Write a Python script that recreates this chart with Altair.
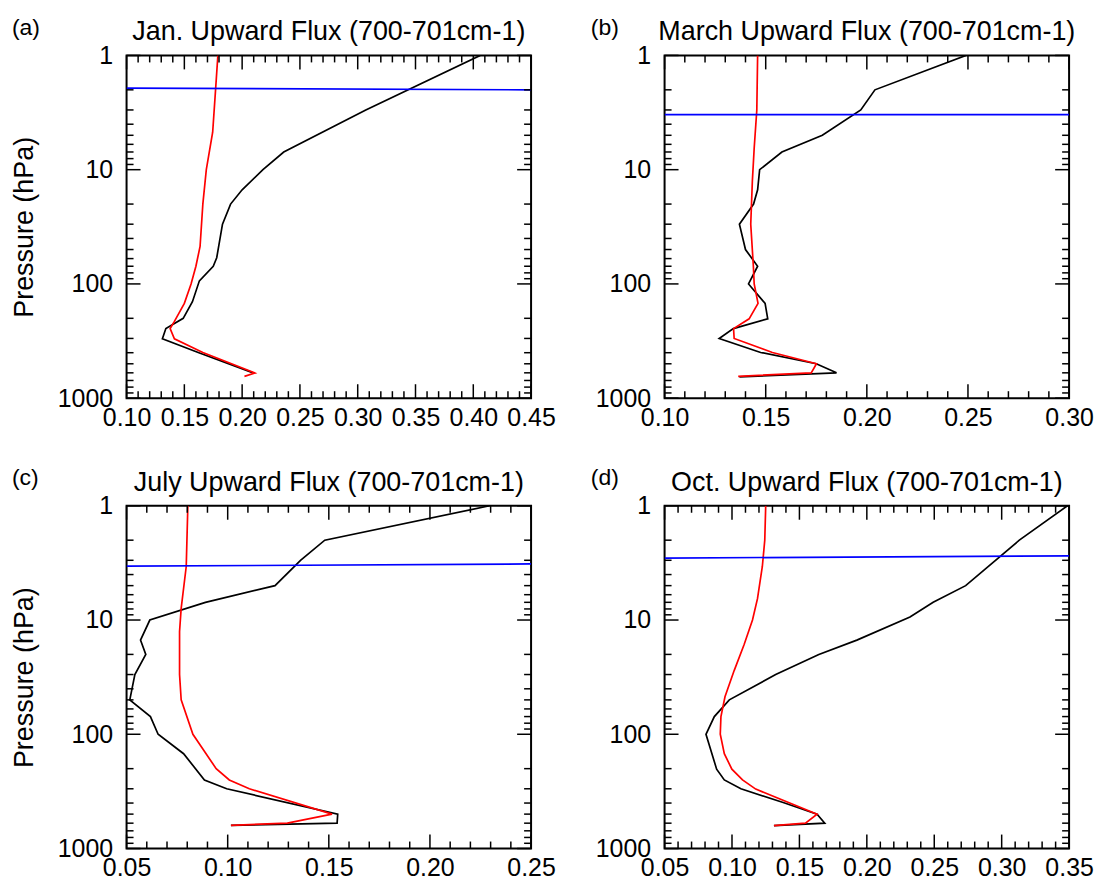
import altair as alt
import pandas as pd

FONT = "Liberation Sans"

# ---------------- data ----------------
# Panel (a) January
a_black_flux = [0.406, 0.307, 0.236, 0.218, 0.200, 0.190, 0.183, 0.178, 0.175, 0.163, 0.157, 0.149, 0.134, 0.131, 0.162, 0.209]
a_black_p = [1, 3, 7, 10, 15, 20, 30, 59, 70, 94, 143, 200, 246, 302, 398, 598]
a_red_flux = [0.179, 0.177, 0.1745, 0.169, 0.166, 0.1636, 0.160, 0.1558, 0.150, 0.1414, 0.1377, 0.1414, 0.166, 0.211, 0.202]
a_red_p = [1, 2, 4.7, 10, 20, 47, 70, 100, 148, 213, 246, 302, 398, 603, 644]
a_blue_flux = [0.10, 0.45]
a_blue_p = [1.93, 2.0]

# Panel (b) March
b_black_flux = [0.249, 0.204, 0.197, 0.178, 0.158, 0.147, 0.146, 0.144, 0.137, 0.140, 0.146, 0.1415, 0.1497, 0.151, 0.134, 0.127, 0.1475, 0.175, 0.185, 0.137]
b_black_p = [1, 2, 3, 5, 7, 10, 15, 20, 30, 50, 70, 100, 148, 202, 246, 300, 398, 500, 600, 650]
b_red_flux = [0.146, 0.1456, 0.1443, 0.1434, 0.1426, 0.1439, 0.1443, 0.1462, 0.1418, 0.1341, 0.1344, 0.1533, 0.1751, 0.1725, 0.1364]
b_red_p = [1, 3, 6.5, 12.6, 30, 70, 100, 148, 202, 246, 300, 398, 500, 600, 644]
b_blue_flux = [0.10, 0.30]
b_blue_p = [3.3, 3.3]

# Panel (c) July
c_black_flux = [0.2295, 0.148, 0.136, 0.1234, 0.089, 0.0615, 0.0569, 0.0595, 0.0541, 0.0516, 0.0618, 0.0656, 0.0782, 0.0885, 0.0995, 0.1544, 0.1541, 0.1016]
c_black_p = [1, 2, 3, 5, 7, 10, 15, 20, 30, 50, 70, 100, 148, 251, 300, 500, 600, 627]
c_red_flux = [0.0803, 0.0795, 0.077, 0.0762, 0.0762, 0.077, 0.0828, 0.0943, 0.1008, 0.1107, 0.1516, 0.1295, 0.1016]
c_red_p = [1, 3.4, 7.9, 12.6, 30, 50, 100, 200, 251, 300, 500, 600, 627]
c_blue_flux = [0.05, 0.25]
c_blue_p = [3.38, 3.23]

# Panel (d) October
d_black_flux = [0.3488, 0.3131, 0.2733, 0.2492, 0.232, 0.1926, 0.1644, 0.1324, 0.098, 0.0869, 0.0807, 0.0886, 0.0943, 0.1066, 0.1385, 0.1631, 0.1688, 0.1311]
d_black_p = [1, 2, 5, 7, 9.4, 15, 20, 30, 50, 70, 100, 202, 251, 300, 398, 500, 600, 631]
d_red_flux = [0.125, 0.1243, 0.1225, 0.1189, 0.1152, 0.109, 0.1016, 0.0948, 0.0918, 0.0913, 0.0943, 0.0999, 0.1078, 0.1176, 0.1631, 0.1545, 0.1311]
d_red_p = [1, 2, 3.4, 6.5, 10, 16.4, 27.7, 47, 70, 100, 148, 202, 251, 302, 500, 600, 631]
d_blue_flux = [0.05, 0.35]
d_blue_p = [2.87, 2.74]

# axis ticks
y_major = [1, 10, 100, 1000]
y_minor = [2, 3, 4, 5, 6, 7, 8, 9, 20, 30, 40, 50, 60, 70, 80, 90, 200, 300, 400, 500, 600, 700, 800, 900]
a_xticks = [0.10, 0.15, 0.20, 0.25, 0.30, 0.35, 0.40, 0.45]
b_xticks = [0.10, 0.15, 0.20, 0.25, 0.30]
c_xticks = [0.05, 0.10, 0.15, 0.20, 0.25]
d_xticks = [0.05, 0.10, 0.15, 0.20, 0.25, 0.30, 0.35]

titles = ["Jan. Upward Flux (700-701cm-1)", "March Upward Flux (700-701cm-1)",
          "July Upward Flux (700-701cm-1)", "Oct. Upward Flux (700-701cm-1)"]
labels = ["(a)", "(b)", "(c)", "(d)"]

W, H = 406, 344
MAJ, MIN = 14, 7
FS = 25


def minors(major):
    lo, hi = major[0], major[-1]
    n = int(round((hi - lo) / 0.01))
    vals = [round(lo + 0.01 * k, 4) for k in range(n + 1)]
    mj = set(round(v, 4) for v in major)
    return [v for v in vals if v not in mj]


def panel(label, title, xticks, bx, bp, rx, rp, blx, blp, left):
    xs = alt.Scale(domain=[xticks[0], xticks[-1]], nice=False, zero=False)
    ys = alt.Scale(type="log", domain=[1, 1000], reverse=True, nice=False)

    xaxis = alt.Axis(values=xticks, format=".2f", ticks=False, tickSize=0, domain=False, grid=False,
                     labelFontSize=FS, labelPadding=7, labelFlush=False, labelOverlap=False,
                     title=None, labelColor="black", labelFont=FONT)
    yaxis = alt.Axis(values=y_major, format="d", ticks=False, tickSize=0, domain=False, grid=False,
                     labelFontSize=FS, labelPadding=14, labelFlush=False, labelOverlap=False,
                     labelColor="black", labelFont=FONT,
                     title="Pressure (hPa)" if left else None,
                     titleFontSize=27, titleFont=FONT, titleFontWeight="normal",
                     titleColor="black", titlePadding=19)

    X = alt.X("x:Q", scale=xs, axis=xaxis)
    Y = alt.Y("y:Q", scale=ys, axis=yaxis)

    frames = []
    for name, fx, fp in [("obs", bx, bp), ("model", rx, rp), ("trop", blx, blp)]:
        frames.append(pd.DataFrame({"x": fx, "y": fp, "s": name, "i": range(len(fx))}))
    lines = pd.concat(frames, ignore_index=True)

    main = alt.Chart(lines).mark_line(clip=True).encode(
        x=X, y=Y,
        color=alt.Color("s:N", scale=alt.Scale(domain=["obs", "model", "trop"],
                                                range=["black", "#ff0000", "#0000ff"]), legend=None),
        strokeWidth=alt.StrokeWidth("s:N", scale=alt.Scale(domain=["obs", "model", "trop"],
                                                            range=[1.7, 1.7, 2.2]), legend=None),
        detail="s:N",
        order="i:Q")

    xmaj = pd.DataFrame({"x": xticks})
    xmin = pd.DataFrame({"x": minors(xticks)})
    ymaj = pd.DataFrame({"y": y_major})
    ymin = pd.DataFrame({"y": y_minor})

    layers = [main]
    for df, ln in [(xmaj, MAJ), (xmin, MIN)]:
        for y0, y1 in [(H, H - ln), (0, ln)]:
            layers.append(alt.Chart(df).mark_rule(color="black", strokeWidth=1.5).encode(
                x=X, y=alt.value(y0), y2=alt.value(y1)))
    for df, ln in [(ymaj, MAJ), (ymin, MIN)]:
        for x0, x1 in [(0, ln), (W, W - ln)]:
            layers.append(alt.Chart(df).mark_rule(color="black", strokeWidth=1.5).encode(
                y=Y, x=alt.value(x0), x2=alt.value(x1)))

    txt = pd.DataFrame({"t": [label], "title": [title]})
    lab = alt.Chart(txt).mark_text(
        align="left", baseline="middle", fontSize=23, font=FONT, color="black").encode(
        text="t:N", x=alt.value(-115 if left else -74), y=alt.value(-28))
    ttl = alt.Chart(txt).mark_text(
        align="center", baseline="alphabetic", fontSize=27, font=FONT, color="black").encode(
        text="title:N", x=alt.value(W / 2), y=alt.value(-15))
    layers += [lab, ttl]

    return alt.layer(*layers).properties(width=W, height=H)


pa = panel(labels[0], titles[0], a_xticks, a_black_flux, a_black_p, a_red_flux, a_red_p, a_blue_flux, a_blue_p, True)
pb = panel(labels[1], titles[1], b_xticks, b_black_flux, b_black_p, b_red_flux, b_red_p, b_blue_flux, b_blue_p, False)
pc = panel(labels[2], titles[2], c_xticks, c_black_flux, c_black_p, c_red_flux, c_red_p, c_blue_flux, c_blue_p, True)
pdd = panel(labels[3], titles[3], d_xticks, d_black_flux, d_black_p, d_red_flux, d_red_p, d_blue_flux, d_blue_p, False)

chart = alt.concat(pa, pb, pc, pdd, columns=2, spacing={"row": 108, "column": 134}, bounds="flush").properties(
    autosize=alt.AutoSizeParams(type="none"),
    padding={"left": 119, "top": 46, "right": 971, "bottom": 828}
).configure_view(stroke="black", strokeWidth=2)

chart.save("out.html", embed_options={"renderer": "svg", "actions": False})
